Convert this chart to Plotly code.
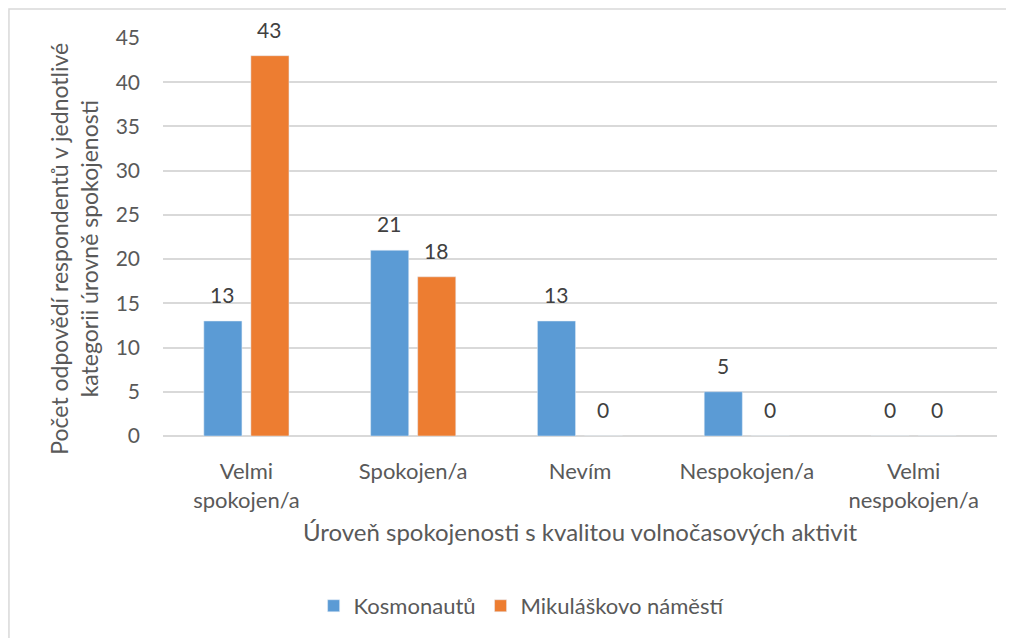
import plotly.graph_objects as go

categories = ["Velmi<br>spokojen/a", "Spokojen/a", "Nevím", "Nespokojen/a", "Velmi<br>nespokojen/a"]
kosmonautu = [13, 21, 13, 5, 0]
mikulaskovo = [43, 18, 0, 0, 0]
series_names = ["Kosmonautů", "Mikuláškovo náměstí"]
y_ticks = [0, 5, 10, 15, 20, 25, 30, 35, 40, 45]

FONT = "Lato"
TXT = "#595959"

fig = go.Figure()
fig.add_bar(x=categories, y=kosmonautu, name=series_names[0], marker_color="#5b9bd5")
fig.add_bar(x=categories, y=mikulaskovo, name=series_names[1], marker_color="#ed7d31")

# data labels placed above each bar of the grouped pair
annotations = []
for series, shift in ((kosmonautu, -24), (mikulaskovo, 23)):
    for cat, val in zip(categories, series):
        annotations.append(dict(x=cat, y=val, xref="x", yref="y", text=str(val), showarrow=False,
                                xshift=shift, yshift=12, yanchor="bottom",
                                font=dict(size=21, color="#404040", family=FONT)))

annotations.append(dict(text="Počet odpovědí respondentů v jednotlivé<br>kategorii úrovně spokojenosti",
                        xref="paper", yref="paper", x=-0.107, y=0.47, textangle=-90,
                        showarrow=False, font=dict(size=23, color=TXT), xanchor="center", yanchor="middle"))

# plot area target (page px): x 163..997, y 38..436 ; page offset 8px
fig.update_layout(
    width=1014, height=638,
    margin=dict(l=155, r=25, t=30, b=210),
    paper_bgcolor="white", plot_bgcolor="white",
    barmode="group", bargap=0.436, bargroupgap=0.19,
    font=dict(family=FONT, color=TXT, size=21),
    showlegend=True,
    legend=dict(orientation="h", x=0.43, xanchor="center", y=-0.427, yanchor="middle",
                font=dict(size=22, color=TXT), itemwidth=30, traceorder="normal"),
    xaxis=dict(showline=False, ticks="", tickfont=dict(size=22, color=TXT), ticklabelstandoff=20,
               title=dict(text="Úroveň spokojenosti s kvalitou volnočasových aktivit",
                          font=dict(size=24, color=TXT), standoff=12)),
    yaxis=dict(range=[0, 45], tickvals=y_ticks, showgrid=True, gridcolor="#d9d9d9", gridwidth=1.5,
               zeroline=True, zerolinecolor="#d9d9d9", zerolinewidth=1.5,
               tickfont=dict(size=21, color=TXT), ticks="", ticklabelstandoff=22),
    shapes=[dict(type="rect", xref="paper", yref="paper", x0=-0.1847, x1=1.03, y0=-0.53, y1=1.0729,
                 line=dict(color="#d9d9d9", width=1.5), fillcolor="rgba(0,0,0,0)", layer="below")],
    annotations=annotations,
)

fig.write_html("out.html")
